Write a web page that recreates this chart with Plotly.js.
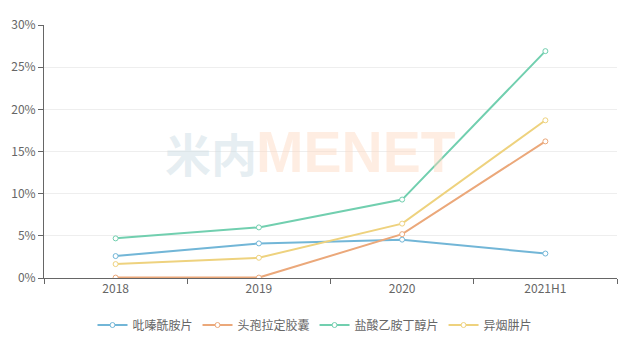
<!DOCTYPE html>
<html><head><meta charset="utf-8">
<script src="https://cdn.plot.ly/plotly-3.0.1.min.js"></script>
<style>body{margin:0;background:#fff}#c{width:630px;height:351px}</style>
</head><body><div id="c"></div>
<script>
var categories = ['2018','2019','2020','2021H1'];
var seriesNames = ['吡嗪酰胺片','头孢拉定胶囊','盐酸乙胺丁醇片','异烟肼片'];
var pyrazinamide = [2.6, 4.1, 4.55, 2.9];
var cefradine = [0.05, 0.05, 5.2, 16.2];
var ethambutol = [4.7, 6.0, 9.3, 26.9];
var isoniazid = [1.65, 2.4, 6.45, 18.7];
var yTicks = [0,5,10,15,20,25,30];
var yTickText = ['0%','5%','10%','15%','20%','25%','30%'];
var colors = ['#72b6d7','#eba87a','#71cfaf','#eed27e'];
var values = [pyrazinamide, cefradine, ethambutol, isoniazid];
var traces = values.map(function(v,i){
  return {x:categories, y:v, name:seriesNames[i], type:'scatter', mode:'lines+markers',
    line:{color:colors[i], width:2},
    marker:{symbol:'circle', size:5, color:'#fff', line:{color:colors[i], width:1}}};
});
var layout = {
  width:630, height:351, margin:{l:44, r:13, t:25, b:73, autoexpand:false},
  paper_bgcolor:'#fff', plot_bgcolor:'#fff',
  font:{family:'"Noto Sans CJK SC", "Open Sans", sans-serif', size:12, color:'#666'},
  xaxis:{type:'category', tickson:'boundaries', ticks:'outside', ticklen:5, tickcolor:'#666',
    showline:true, linecolor:'#666', linewidth:1, showgrid:false, zeroline:false,
    range:[-0.5,3.5], tickfont:{size:12, color:'#666'}},
  yaxis:{range:[0,30], tickvals:yTicks, ticktext:yTickText, ticks:'outside', ticklen:5, tickcolor:'#666',
    showline:true, linecolor:'#666', linewidth:1, showgrid:true, gridcolor:'#eeeeee', zeroline:false,
    tickfont:{size:12, color:'#666'}},
  showlegend:true,
  legend:{orientation:'h', x:0.5, xref:'container', xanchor:'center', y:0.074, yref:'container', yanchor:'middle',
    font:{size:12, color:'#666'}, itemwidth:30},
  annotations:[
    {text:'<b>米内</b>', xref:'paper', yref:'paper', x:0.208, y:0.5, xanchor:'left', yanchor:'middle', showarrow:false,
     font:{size:46, color:'rgba(200,218,226,0.45)', family:'"Noto Sans CJK SC", sans-serif'}},
    {text:'<b>MENET</b>', xref:'paper', yref:'paper', x:0.366, y:0.5, xanchor:'left', yanchor:'middle', showarrow:false,
     font:{size:57, color:'rgba(252,215,190,0.45)', family:'"Liberation Sans", Arial, sans-serif'}}
  ]
};
Plotly.newPlot('c', traces, layout, {displayModeBar:false, staticPlot:true});
</script></body></html>
